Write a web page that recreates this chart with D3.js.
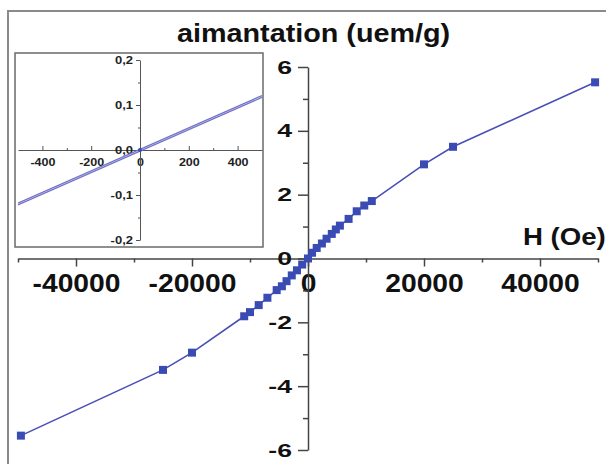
<!DOCTYPE html>
<html>
<head>
<meta charset="utf-8">
<script src="https://cdn.jsdelivr.net/npm/d3@7"></script>
<style>
  body { margin: 0; background: #fff; }
  svg { display: block; font-family: "Liberation Sans", Arial, sans-serif; font-weight: bold; }
</style>
</head>
<body>
<svg id="chart"></svg>
<script>
const width = 606, height = 464;

// main loop
const fieldH = [-49500, -25000, -20000, -11000, -10000, -8500, -7000, -5400, -4500, -3700, -2800, -1900, -1000, 0,
                700, 1500, 2400, 3200, 4100, 4800, 5500, 7000, 8400, 9700, 11000, 20000, 25000, 49500];
const magM = [-5.55, -3.49, -2.95, -1.81, -1.68, -1.46, -1.23, -0.99, -0.87, -0.71, -0.53, -0.37, -0.19, 0.0,
              0.18, 0.33, 0.47, 0.62, 0.77, 0.91, 1.03, 1.24, 1.48, 1.66, 1.80, 2.95, 3.50, 5.52];
const xTicks = [-40000, -20000, 0, 20000, 40000];
const xMinor = [-50000, -30000, -10000, 10000, 30000, 50000];
const yTicks = [-6, -4, -2, 0, 2, 4, 6];
const yMinor = [-5, -3, -1, 1, 3, 5];

// inset (low field zoom)
const insetH = [-500, 500];
const insetUp = [-0.122, 0.117];
const insetDown = [-0.118, 0.121];
const insetXTicks = [-400, -200, 0, 200, 400];
const insetXMinor = [-300, -100, 100, 300];
const insetYTicks = [-0.2, -0.1, 0, 0.1, 0.2];
const insetYMinor = [-0.15, -0.05, 0.05, 0.15];

const ptColor = '#3a4cb4';
const lineColor = '#4a4fb5';

const svg = d3.select('#chart')
  .attr('width', width)
  .attr('height', height)
  .attr('viewBox', [0, 0, width, height]);

svg.append('rect').attr('width', width).attr('height', height).attr('fill', '#fff');

// outer frame (only top and left are visible)
svg.append('rect')
  .attr('x', 8).attr('y', 11)
  .attr('width', 640).attr('height', 480)
  .attr('fill', 'none').attr('stroke', '#8a8a8a').attr('stroke-width', 2);

// widen text the way the picture has it
function stretch(sel, k) {
  sel.each(function () {
    const w = this.getComputedTextLength();
    d3.select(this).attr('textLength', w * k).attr('lengthAdjust', 'spacingAndGlyphs');
  });
}

const x = d3.scaleLinear([-50000, 50000], [18, 598]);
const y = d3.scaleLinear([-6, 6], [450, 67]);

// x axis through y=0
const gx = svg.append('g').attr('transform', `translate(0,${y(0)})`);
gx.append('g')
  .call(d3.axisBottom(x).tickValues(xMinor).tickSize(4).tickSizeOuter(0).tickFormat(''))
  .call(g => g.select('.domain').remove());
gx.append('g')
  .call(d3.axisBottom(x).tickValues(xTicks).tickSize(8).tickSizeOuter(0).tickPadding(8).tickFormat(d => String(d)))
  .call(g => g.selectAll('text').attr('font-size', 25).attr('fill', '#111'));
gx.selectAll('path, line').attr('stroke', '#444').attr('stroke-width', 1.5);
stretch(gx.selectAll('text'), 1.13);

// y axis through x=0
const gy = svg.append('g').attr('transform', `translate(${x(0)},0)`);
gy.append('g')
  .call(d3.axisLeft(y).tickValues(yMinor).tickSize(5).tickSizeOuter(0).tickFormat(''))
  .call(g => g.select('.domain').remove());
gy.append('g')
  .call(d3.axisLeft(y).tickValues(yTicks).tickSize(10).tickSizeOuter(0).tickPadding(6).tickFormat(d => String(d)))
  .call(g => g.selectAll('text').attr('font-size', 19).attr('fill', '#111'));
gy.selectAll('path, line').attr('stroke', '#444').attr('stroke-width', 1.5);
stretch(gy.selectAll('text'), 1.4);

// titles
const title = svg.append('text')
  .attr('x', 177).attr('y', 42)
  .attr('font-size', 25).attr('fill', '#111')
  .text('aimantation (uem/g)');
stretch(title, 1.15);

const hLabel = svg.append('text')
  .attr('x', 523).attr('y', 245)
  .attr('font-size', 24).attr('fill', '#111')
  .text('H (Oe)');
stretch(hLabel, 1.15);

// main curve
const pts = fieldH.map((h, i) => [h, magM[i]]);
svg.append('path')
  .datum(pts)
  .attr('fill', 'none')
  .attr('stroke', lineColor)
  .attr('stroke-width', 1.6)
  .attr('d', d3.line().x(d => x(d[0])).y(d => y(d[1])));

const sq = 8;
svg.append('g').selectAll('rect')
  .data(pts)
  .join('rect')
  .attr('x', d => x(d[0]) - sq / 2)
  .attr('y', d => y(d[1]) - sq / 2)
  .attr('width', sq).attr('height', sq)
  .attr('fill', ptColor);

// inset
const inset = svg.append('g');
inset.append('rect')
  .attr('x', 15).attr('y', 53)
  .attr('width', 248).attr('height', 194)
  .attr('fill', '#fff').attr('stroke', '#6a6a6a').attr('stroke-width', 1.5);

const xi = d3.scaleLinear([-500, 500], [18, 262]);
const yi = d3.scaleLinear([-0.2, 0.2], [240, 60]);
const commaFmt = d => d.toFixed(1).replace('.', ',');

const gxi = inset.append('g').attr('transform', `translate(0,${yi(0)})`);
gxi.append('g')
  .call(d3.axisBottom(xi).tickValues(insetXMinor).tickSize(-2).tickSizeOuter(0).tickFormat(''))
  .call(g => g.select('.domain').remove());
gxi.append('g')
  .call(d3.axisBottom(xi).tickValues(insetXTicks).tickSize(-4).tickSizeOuter(0).tickPadding(9).tickFormat(d => String(d)))
  .call(g => g.selectAll('text').attr('font-size', 10).attr('fill', '#222'));
gxi.selectAll('path, line').attr('stroke', '#555').attr('stroke-width', 1);
stretch(gxi.selectAll('text'), 1.25);

const gyi = inset.append('g').attr('transform', `translate(${xi(0)},0)`);
gyi.append('g')
  .call(d3.axisLeft(yi).tickValues(insetYMinor).tickSize(2).tickSizeOuter(0).tickFormat(''))
  .call(g => g.select('.domain').remove());
gyi.append('g')
  .call(d3.axisLeft(yi).tickValues(insetYTicks).tickSize(4).tickSizeOuter(0).tickPadding(3).tickFormat(commaFmt))
  .call(g => g.selectAll('text').attr('font-size', 10).attr('fill', '#222'));
gyi.selectAll('path, line').attr('stroke', '#555').attr('stroke-width', 1);
stretch(gyi.selectAll('text'), 1.3);

const insetLine = d3.line().x(d => xi(d[0])).y(d => yi(d[1]));
[insetUp, insetDown].forEach(branch => {
  inset.append('path')
    .datum(insetH.map((h, i) => [h, branch[i]]))
    .attr('fill', 'none')
    .attr('stroke', '#7474c8')
    .attr('stroke-width', 1.3)
    .attr('d', insetLine);
});
inset.append('circle')
  .attr('cx', xi(0)).attr('cy', yi(0)).attr('r', 2)
  .attr('fill', ptColor);
</script>
</body>
</html>
